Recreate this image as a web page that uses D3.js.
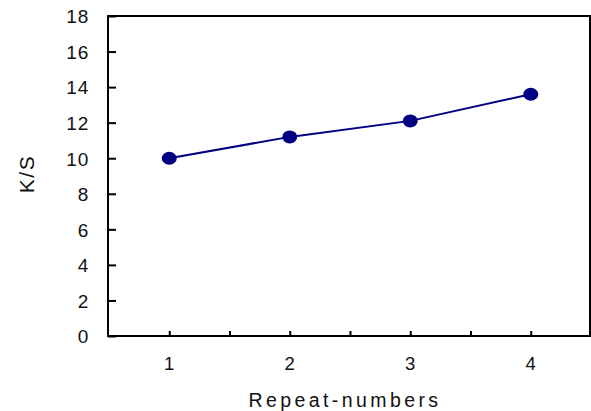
<!DOCTYPE html>
<html>
<head>
<meta charset="utf-8">
<script src="https://cdn.jsdelivr.net/npm/d3@7"></script>
<style>
  html, body { margin: 0; padding: 0; background: #fff; }
  svg text { font-family: "Liberation Sans", Arial, sans-serif; fill: #111; }
</style>
</head>
<body>
<svg id="chart" width="591" height="411"></svg>
<script>
// Repeat number vs. colour strength (K/S)
const repeats = [1, 2, 3, 4];
const ksValues = [10.0, 11.2, 12.1, 13.6];
const yTicks = [0, 2, 4, 6, 8, 10, 12, 14, 16, 18];
const xTickLabels = ["1", "2", "3", "4"];
const xMinorTicks = [1, 1.5, 2, 2.5, 3, 3.5, 4];

const svg = d3.select("#chart");
const plotLeft = 108, plotRight = 590, plotTop = 16, plotBottom = 336;

const x = d3.scaleLinear().domain([0.5, 4.5]).range([plotLeft + 1, plotRight + 1]);
const y = d3.scaleLinear().domain([0, 18]).range([plotBottom, plotTop]);

// Frame
svg.append("rect")
  .attr("x", plotLeft).attr("y", plotTop)
  .attr("width", plotRight - plotLeft).attr("height", plotBottom - plotTop)
  .attr("fill", "none").attr("stroke", "#000").attr("stroke-width", 2);

// Y axis
const yAxis = d3.axisLeft(y).tickValues(yTicks).tickSize(-8).tickPadding(19)
  .tickFormat(d3.format("d"));
const gy = svg.append("g").attr("transform", `translate(${plotLeft},0)`).call(yAxis);
gy.attr("font-size", null).attr("font-family", null);
gy.select(".domain").remove();
gy.selectAll(".tick line").attr("stroke", "#000").attr("stroke-width", 2);
gy.selectAll(".tick text")
  .style("font-size", "19px")
  .style("letter-spacing", "0.8px")
  .attr("dy", "0.36em")
  .attr("fill", "#111");

// X axis: inward ticks at categories and halfway points
const xAxis = d3.axisBottom(x).tickValues(xMinorTicks).tickSize(-5).tickPadding(0)
  .tickFormat(() => "");
const gx = svg.append("g").attr("transform", `translate(0,${plotBottom})`).call(xAxis);
gx.select(".domain").remove();
gx.selectAll(".tick line").attr("stroke", "#000").attr("stroke-width", 2);

svg.append("g").selectAll("text")
  .data(repeats)
  .join("text")
  .attr("x", d => x(d))
  .attr("y", 370)
  .attr("text-anchor", "middle")
  .style("font-size", "18.5px")
  .text((d, i) => xTickLabels[i]);

// Axis titles
svg.append("text")
  .attr("x", 345)
  .attr("y", 407)
  .attr("text-anchor", "middle")
  .style("font-size", "19.5px")
  .style("letter-spacing", "3.4px")
  .text("Repeat-numbers");

svg.append("text")
  .attr("transform", `translate(34,174) rotate(-90)`)
  .attr("text-anchor", "middle")
  .style("font-size", "21px")
  .style("letter-spacing", "1.5px")
  .text("K/S");

// Series line and markers
const pts = repeats.map((r, i) => ({ r, v: ksValues[i] }));
svg.append("path")
  .datum(pts)
  .attr("fill", "none")
  .attr("stroke", "#000080")
  .attr("stroke-width", 2)
  .attr("d", d3.line().x(d => x(d.r)).y(d => y(d.v)));

svg.append("g").selectAll("ellipse")
  .data(pts)
  .join("ellipse")
  .attr("cx", d => x(d.r))
  .attr("cy", d => y(d.v))
  .attr("rx", 7.5)
  .attr("ry", 6.5)
  .attr("fill", "#000080");
</script>
</body>
</html>
